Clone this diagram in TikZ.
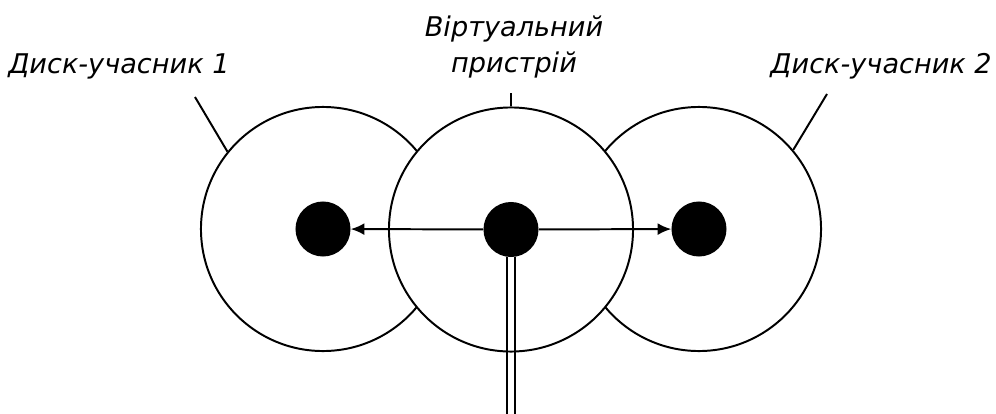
\documentclass[tikz,border=0pt]{standalone}
\usepackage{fontspec}
\usetikzlibrary{arrows.meta}
\newfontfamily\labelfont{DejaVu Sans}

\begin{document}
\begin{tikzpicture}[x=0.025cm,y=-0.025cm,
  disk/.style={draw,circle,fill=white,line width=1.4pt,minimum size=6.1cm,inner sep=0pt},
  core/.style={circle,fill=black,minimum size=1.375cm,inner sep=0pt},
  wire/.style={line width=1.4pt},
  tag/.style={font=\labelfont\itshape\fontsize{19.3pt}{24.9pt}\selectfont,align=center,inner sep=0pt}]
  \useasboundingbox (0,0) rectangle (996,414);
  % disks, virtual device on top
  \node[disk] (disk1) at (323,229) {};
  \node[disk] (disk2) at (699,229) {};
  \node[disk] (virt) at (511,229.5) {};
  % labels and their leaders
  \node[tag,anchor=base west] (name1) at (8,73) {Диск-учасник 1};
  \node[tag,anchor=base east] (name2) at (992,73) {Диск-учасник 2};
  \node[tag,anchor=base] (namev) at (514,72) {Віртуальний\\пристрій};
  \coordinate (tag1) at (195,97);
  \coordinate (tag2) at (827,94);
  \coordinate (tagv) at (511,93);
  \draw[wire] (disk1.141) -- (tag1);
  \draw[wire] (disk2.40) -- (tag2);
  \draw[wire] (virt.north) -- (tagv);
  % cores and mirroring arrows
  \node[core] (core1) at (disk1) {};
  \node[core] (core2) at (disk2) {};
  \node[core] (corev) at (511,229.5) {};
  \draw[wire,-{Latex[length=0.34cm,width=0.3cm]}] (corev) -- (core1);
  \draw[wire,-{Latex[length=0.34cm,width=0.3cm]}] (corev) -- (core2);
  % bus leaving the virtual device
  \coordinate (bus) at (511,414);
  \foreach \dx in {-0.108,0.108}
    \draw[wire] ([xshift=\dx cm]corev.south) -- ([xshift=\dx cm]bus);
\end{tikzpicture}
\end{document}
